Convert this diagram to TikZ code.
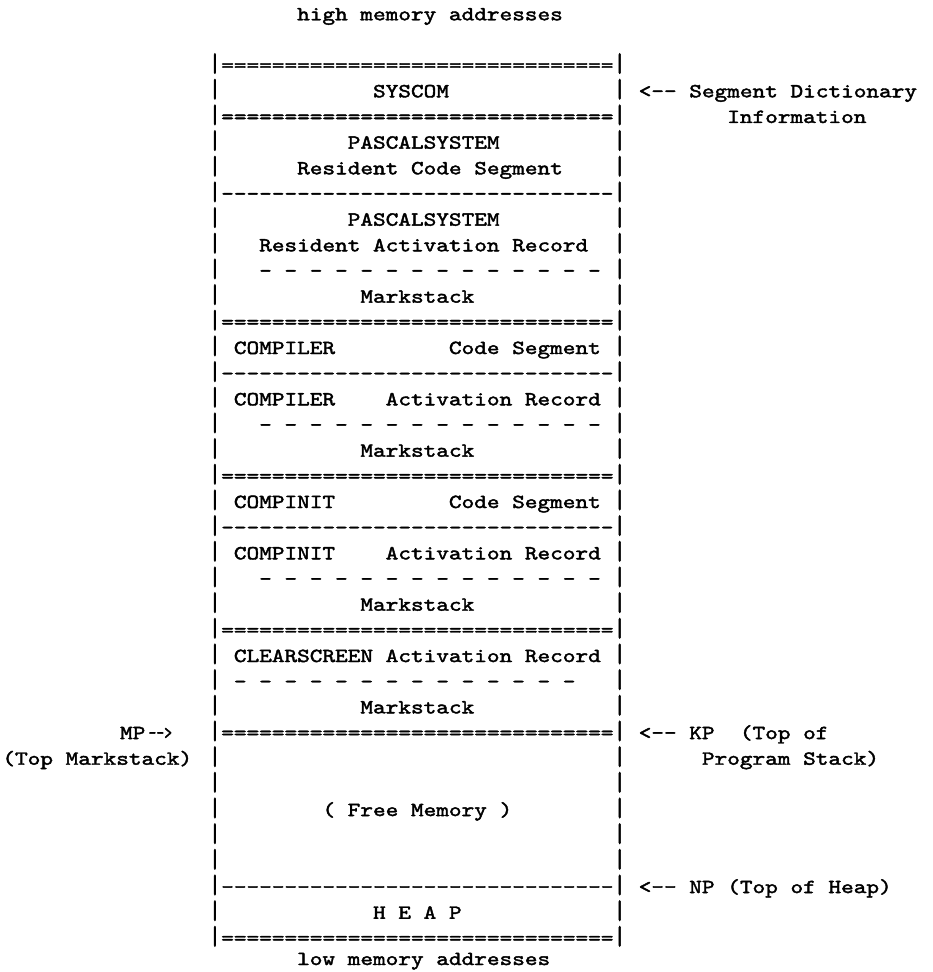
\documentclass[tikz,border=0pt]{standalone}
\usepackage{graphicx}
\font\twfont="[lmmono10-regular]:extend=1.205;embolden=2" at 20pt
\fontdimen2\twfont=12.65pt \fontdimen3\twfont=0pt \fontdimen4\twfont=0pt
\ExplSyntaxOn
\cs_new:Npn \myrep #1#2 { \prg_replicate:nn {#1} {#2} }
\ExplSyntaxOff
\newcounter{tn}
% place text by (line, column) of the typewriter grid
\newcommand\putat[3]{\stepcounter{tn}%
  \node[tt,name=t\arabic{tn}] at ({208.6+(#2)*12.65},{-(97.3+(#1-4)*25.67)}) {#3};}
% place text by column and explicit baseline (pixels from top)
\newcommand\putxy[3]{\stepcounter{tn}%
  \node[tt,name=t\arabic{tn}] at ({208.6+(#1)*12.65},{-(#2)}) {#3};}
\newcommand\vbar{\scalebox{1}[1.32]{|}}
\tikzset{tt/.style={anchor=base west,inner sep=0pt,outer sep=0pt,font=\twfont,text=black}}
\begin{document}
\begin{tikzpicture}[x=1pt,y=1pt]
\fill[white] (0,0) rectangle (932,-972);
\useasboundingbox (0,0) rectangle (932,-972);
% side bars
\foreach \l in {3,...,37}{\putat{\l}{0}{\vbar}\putat{\l}{32}{\vbar}}
% separators
\foreach \l in {3,5,13,19,25,29,37}{\putat{\l}{1}{\myrep{31}{=}}}
\foreach \l in {8,15,21,35}{\putat{\l}{1}{\myrep{31}{-}}}
\foreach \l in {11,17,23}{\putat{\l}{4}{- - - - - - - - - - - - - -}}
\putat{27}{2}{- - - - - - - - - - - - - -}
% contents
\putat{1}{7}{high memory addresses}
\putat{4}{13}{SYSCOM}
\putat{4}{34}{<-- Segment Dictionary}
\putat{5}{41}{Information}
\putat{6}{11}{PASCALSYSTEM}
\putat{7}{7}{Resident Code Segment}
\putat{9}{11}{PASCALSYSTEM}
\putat{10}{4}{Resident Activation Record}
\putat{12}{12}{Markstack}
\putat{14}{2}{COMPILER}
\putat{14}{19}{Code Segment}
\putat{16}{2}{COMPILER}
\putat{16}{14}{Activation Record}
\putat{18}{12}{Markstack}
\putat{20}{2}{COMPINIT}
\putat{20}{19}{Code Segment}
\putat{22}{2}{COMPINIT}
\putat{22}{14}{Activation Record}
\putat{24}{12}{Markstack}
\putat{26}{2}{CLEARSCREEN Activation Record}
\putat{28}{12}{Markstack}
\putat{29}{-7}{MP}
\putat{29}{-4.75}{\scalebox{0.62}[1]{-->}}
\putat{29}{34}{<-- KP}
\putat{29}{42}{(Top of}
\putat{30}{-16.3}{(Top Markstack)}
\putat{30}{39}{Program Stack)}
\putat{32}{9}{( Free Memory )}
\putat{35}{34}{<-- NP (Top of Heap)}
\putat{36}{13}{H E A P}
\putxy{7}{965}{low memory addresses}
\end{tikzpicture}
\end{document}
